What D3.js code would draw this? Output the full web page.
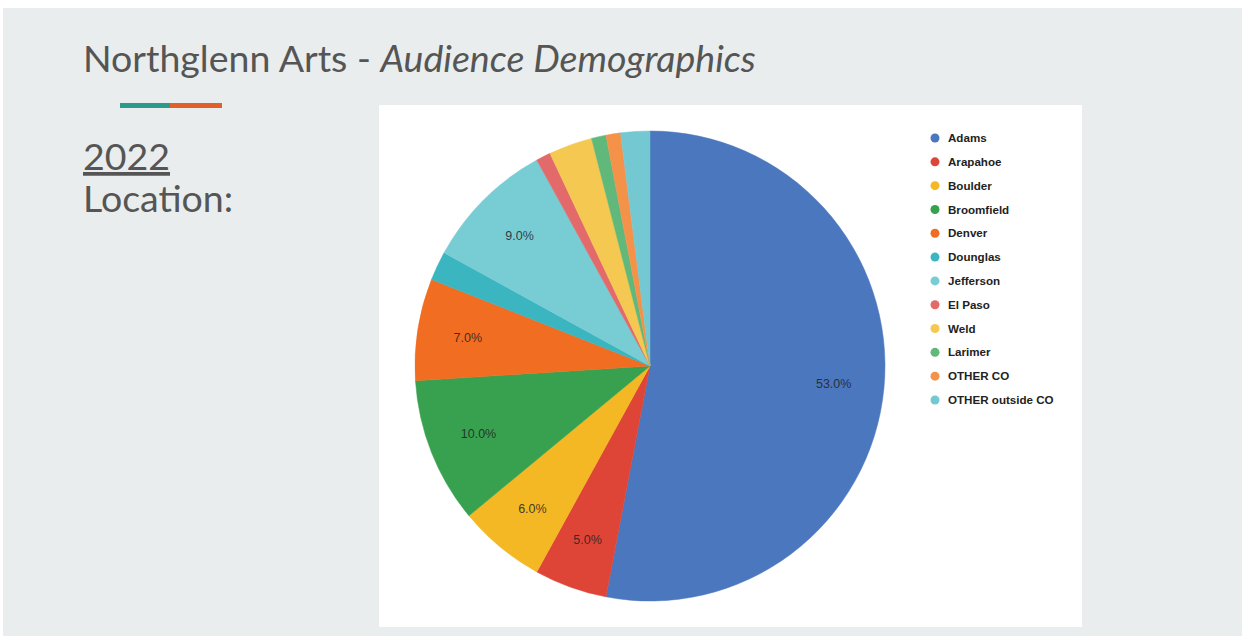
<!DOCTYPE html>
<meta charset="utf-8" />
<script src="https://d3js.org/d3.v7.min.js"></script>
<body style="margin:0;background:#fff">
<svg id="chart" width="1244" height="636" style="display:block"></svg>
<script>
/* data -------------------------------------------------------------------- */
const counties=["Adams","Arapahoe","Boulder","Broomfield","Denver","Dounglas",
  "Jefferson","El Paso","Weld","Larimer","OTHER CO","OTHER outside CO"];
const shares=[53,5,6,10,7,2,9,1,3,1,1,2];
const colours=["#4a77be","#de4537","#f3b823","#37a14f","#f06d22","#3bb5c0",
  "#78ccd4","#e36a6a","#f5c851","#60b87a","#f4924a","#73c8d2"];

const W=1244,H=636;
const svg=d3.select("#chart");

/* slide background */
svg.append("rect").attr("x",3).attr("y",8).attr("width",W-5).attr("height",H-8).attr("fill","#e9eded");

/* heading */
const title=svg.append("text").attr("x",83).attr("y",72)
  .attr("font-family","Lato").attr("font-size",37.5).attr("fill","#555");
title.append("tspan").text("Northglenn Arts - ");
title.append("tspan").attr("font-style","italic").text("Audience Demographics");

svg.append("rect").attr("x",120).attr("y",103).attr("width",50).attr("height",5).attr("fill","#2a9a8a");
svg.append("rect").attr("x",170).attr("y",103).attr("width",52).attr("height",5).attr("fill","#e15f28");

svg.append("text").attr("x",83).attr("y",170).attr("font-family","Lato")
  .attr("font-size",37.5).attr("fill","#555").attr("text-decoration","underline").text("2022");
svg.append("text").attr("x",83).attr("y",212).attr("font-family","Lato")
  .attr("font-size",37.5).attr("fill","#555").text("Location:");

/* chart panel */
svg.append("rect").attr("x",379).attr("y",105).attr("width",703).attr("height",522).attr("fill","#fff");

/* pie ----------------------------------------------------------------------- */
const cx=650,cy=366,R=235;
const colour=d3.scaleOrdinal(counties,colours);
const pie=d3.pie().value(d=>d.v).sort(null);
const arcs=pie(counties.map((c,i)=>({c,v:shares[i]})));
const arc=d3.arc().innerRadius(0).outerRadius(R);
const lab=d3.arc().innerRadius(R*0.785).outerRadius(R*0.785);

const g=svg.append("g").attr("transform",`translate(${cx},${cy})`);
g.selectAll("path").data(arcs).join("path")
  .attr("d",arc).attr("fill",d=>colour(d.data.c))
  .attr("stroke",d=>colour(d.data.c)).attr("stroke-width",0.5);

const total=d3.sum(shares);
g.selectAll("text").data(arcs.filter(d=>d.data.v/total>=0.05)).join("text")
  .attr("transform",d=>`translate(${lab.centroid(d)})`)
  .attr("text-anchor","middle").attr("dy","0.35em")
  .attr("font-family","Liberation Sans, Arial, sans-serif").attr("font-size",12.5)
  .attr("fill","#222").attr("fill-opacity",0.85)
  .text(d=>(d.data.v/total*100).toFixed(1)+"%");

/* legend */
const y=d3.scalePoint().domain(counties).range([138,400]);
const lg=svg.append("g").selectAll("g").data(counties).join("g")
  .attr("transform",d=>`translate(935,${y(d)})`);
lg.append("circle").attr("r",4.5).attr("fill",d=>colour(d));
lg.append("text").attr("x",13).attr("dy","0.35em")
  .attr("font-family","Liberation Sans, Arial, sans-serif").attr("font-size",11.6)
  .attr("font-weight","bold").attr("fill","#222").text(d=>d);
</script>
</body>
